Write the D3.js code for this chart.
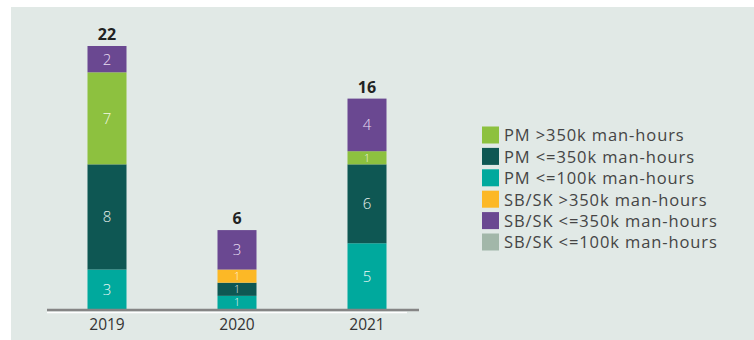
<!DOCTYPE html>
<html>
<head>
<meta charset="utf-8">
<script src="https://cdn.jsdelivr.net/npm/d3@7"></script>
<style>
  html, body { margin: 0; padding: 0; background: #ffffff; }
  svg { display: block; }
  text { font-family: "Open Sans", "Noto Sans", sans-serif; }
</style>
</head>
<body>
<svg id="chart" width="754" height="340"></svg>
<script>
// Categories and series (number of projects per year)
const years = ["2019", "2020", "2021"];
const pmOver350 = [7, 0, 1];
const pmUpTo350 = [8, 1, 6];
const pmUpTo100 = [3, 1, 5];
const sbOver350 = [0, 1, 0];
const sbUpTo350 = [2, 3, 4];
const sbUpTo100 = [0, 0, 0];
// totals as printed above each bar
const totalLabels = [22, 6, 16];

const seriesNames = [
  "PM <=100k man-hours",
  "PM <=350k man-hours",
  "PM >350k man-hours",
  "SB/SK >350k man-hours",
  "SB/SK <=350k man-hours",
  "SB/SK <=100k man-hours"
];
const legendOrder = [
  "PM >350k man-hours",
  "PM <=350k man-hours",
  "PM <=100k man-hours",
  "SB/SK >350k man-hours",
  "SB/SK <=350k man-hours",
  "SB/SK <=100k man-hours"
];
const seriesValues = [pmUpTo100, pmUpTo350, pmOver350, sbOver350, sbUpTo350, sbUpTo100];
const seriesColors = ["#00a99d", "#0e5753", "#8dc13f", "#fcb826", "#6a4891", "#a2b7a9"];
const labelColors  = ["#eef8f6", "#e6efed", "#f3f8e6", "#fff6e0", "#e8def1", "#ffffff"];

const rows = years.map((y, i) => {
  const r = { year: y };
  seriesNames.forEach((n, k) => { r[n] = seriesValues[k][i]; });
  return r;
});

const svg = d3.select("#chart");

// panel background
svg.append("rect").attr("x", 11).attr("y", 7).attr("width", 743).attr("height", 333).attr("fill", "#e1e9e6");

const x = d3.scaleBand().domain(years).range([42, 432]).paddingInner(0.7).paddingOuter(0.35);
const stacked = d3.stack().keys(seriesNames)(rows);
const stackTop = d3.max(stacked[stacked.length - 1], s => s[1]);
const y = d3.scaleLinear().domain([0, stackTop]).range([309, 46]);
const color = d3.scaleOrdinal().domain(seriesNames).range(seriesColors);
const labelColor = d3.scaleOrdinal().domain(seriesNames).range(labelColors);

const layers = svg.append("g").selectAll("g").data(stacked).join("g")
  .attr("fill", d => color(d.key));

const segs = d => d.filter(s => s[1] - s[0] > 0).map(s => ({ s, key: d.key }));

layers.selectAll("rect").data(segs).join("rect")
  .attr("x", d => x(d.s.data.year))
  .attr("width", x.bandwidth())
  .attr("y", d => y(d.s[1]))
  .attr("height", d => y(d.s[0]) - y(d.s[1]));

// value labels inside segments, shrunk to fit short segments
layers.selectAll("text").data(segs).join("text")
  .attr("x", d => x(d.s.data.year) + x.bandwidth() / 2)
  .attr("y", d => (y(d.s[0]) + y(d.s[1])) / 2)
  .attr("dy", "0.36em")
  .attr("text-anchor", "middle")
  .attr("font-size", d => Math.min(15, (y(d.s[0]) - y(d.s[1])) - 2.5))
  .attr("font-weight", 300)
  .attr("fill", d => labelColor(d.key))
  .text(d => d.s[1] - d.s[0]);

// totals above bars
svg.append("g").selectAll("text").data(rows).join("text")
  .attr("x", d => x(d.year) + x.bandwidth() / 2)
  .attr("y", d => y(d3.sum(seriesNames, n => d[n])) - 6)
  .attr("text-anchor", "middle")
  .attr("font-size", 16)
  .attr("font-weight", 700)
  .attr("fill", "#222222")
  .text((d, i) => totalLabels[i]);

// baseline with light underline
svg.append("line").attr("x1", 47).attr("x2", 407).attr("y1", 312.5).attr("y2", 312.5)
  .attr("stroke", "#ffffff").attr("stroke-width", 1.5);
svg.append("line").attr("x1", 47).attr("x2", 419).attr("y1", y(0) + 1).attr("y2", y(0) + 1)
  .attr("stroke", "#858585").attr("stroke-width", 2.5);

// category axis
const xAxis = svg.append("g").attr("transform", `translate(0,${y(0) + 2})`)
  .call(d3.axisBottom(x).tickSize(0).tickPadding(8));
xAxis.select(".domain").remove();
xAxis.selectAll("text").attr("font-size", 15.5).attr("fill", "#333333")
  .style("font-family", "'Open Sans', sans-serif");

// legend
const legend = svg.append("g").attr("transform", "translate(482,126.5)");
const item = legend.selectAll("g").data(legendOrder).join("g")
  .attr("transform", (d, i) => `translate(0,${i * 21.4})`);
item.append("rect").attr("width", 17).attr("height", 17).attr("fill", d => color(d));
item.append("text").attr("x", 22).attr("y", 9).attr("dy", "0.36em")
  .attr("font-size", 16.5).attr("letter-spacing", 0.9)
  .attr("fill", "#454545").text(d => d);
</script>
</body>
</html>
